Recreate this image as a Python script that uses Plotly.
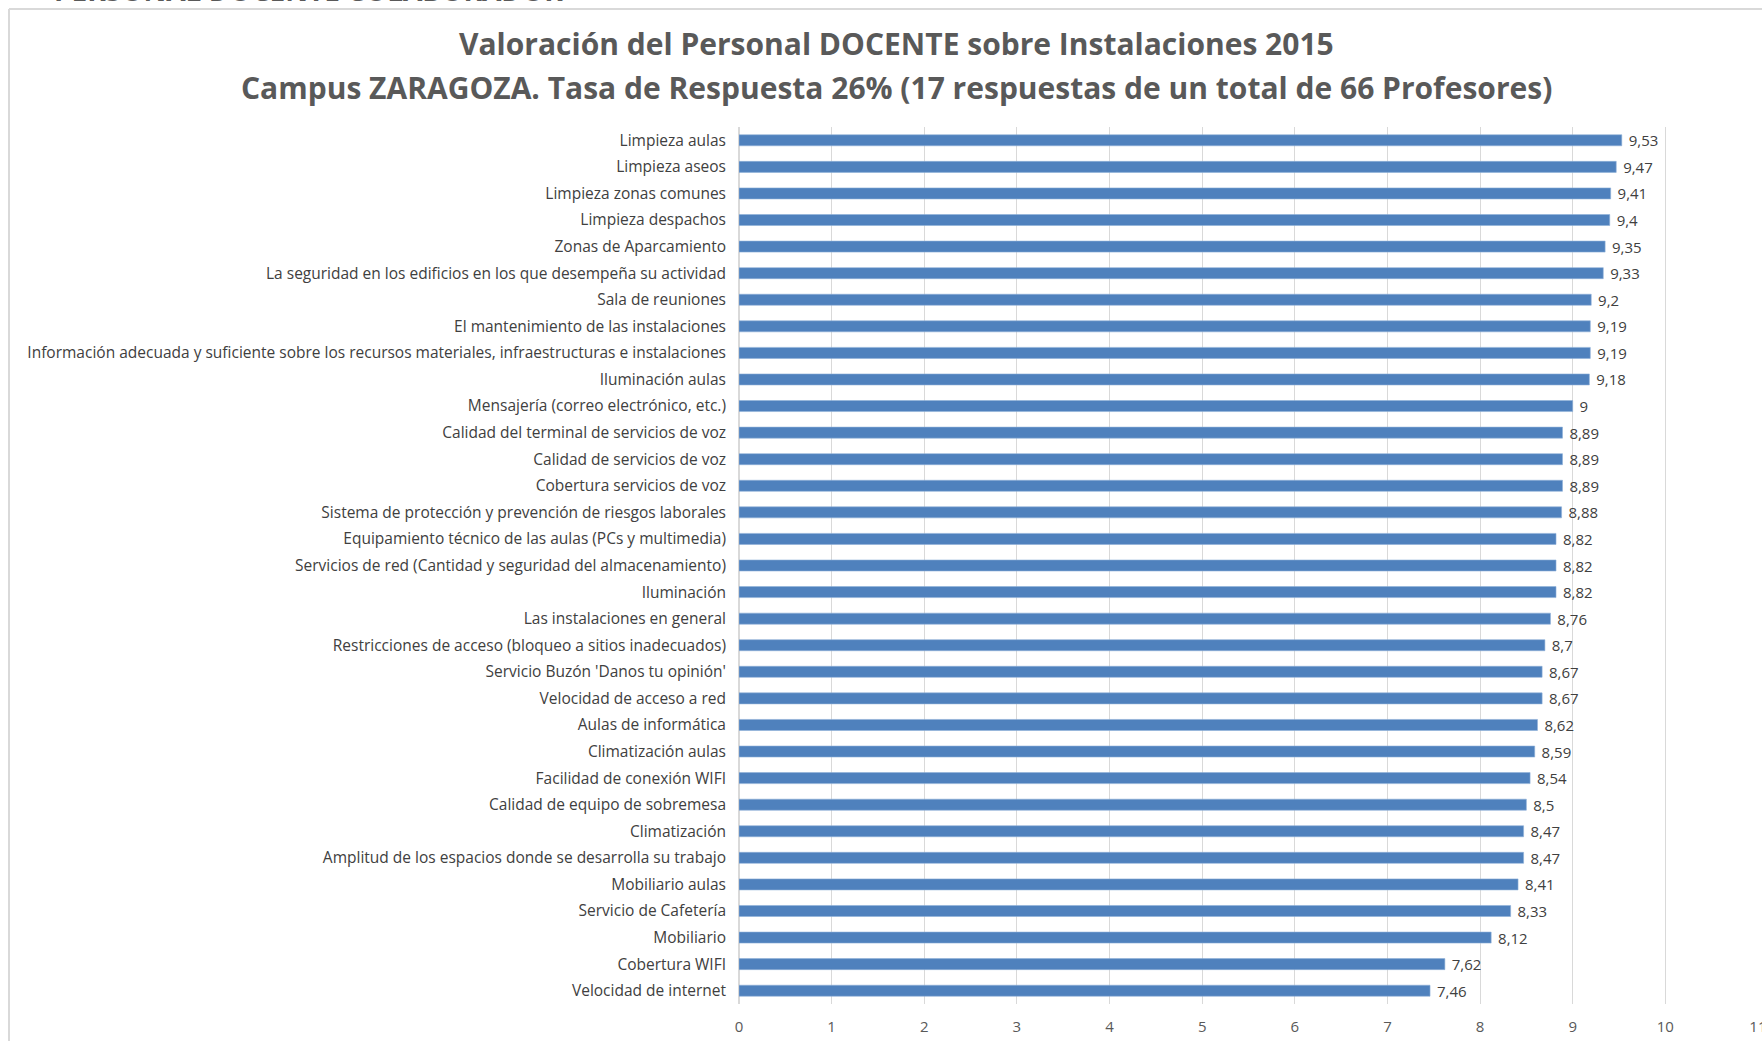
import plotly.graph_objects as go

# Datos (de arriba a abajo)
categorias = [
    "Limpieza aulas",
    "Limpieza aseos",
    "Limpieza zonas comunes",
    "Limpieza despachos",
    "Zonas de Aparcamiento",
    "La seguridad en los edificios en los que desempeña su actividad",
    "Sala de reuniones",
    "El mantenimiento de las instalaciones",
    "Información adecuada y suficiente sobre los recursos materiales, infraestructuras e instalaciones",
    "Iluminación aulas",
    "Mensajería (correo electrónico, etc.)",
    "Calidad del terminal de servicios de voz",
    "Calidad de servicios de voz",
    "Cobertura servicios de voz",
    "Sistema de protección y prevención de riesgos laborales",
    "Equipamiento técnico de las aulas (PCs y multimedia)",
    "Servicios de red (Cantidad y seguridad del almacenamiento)",
    "Iluminación",
    "Las instalaciones en general",
    "Restricciones de acceso (bloqueo a sitios inadecuados)",
    "Servicio Buzón 'Danos tu opinión'",
    "Velocidad de acceso a red",
    "Aulas de informática",
    "Climatización aulas",
    "Facilidad de conexión WIFI",
    "Calidad de equipo de sobremesa",
    "Climatización",
    "Amplitud de los espacios donde se desarrolla su trabajo",
    "Mobiliario aulas",
    "Servicio de Cafetería",
    "Mobiliario",
    "Cobertura WIFI",
    "Velocidad de internet",
]
valores = [
    9.53, 9.47, 9.41, 9.4, 9.35, 9.33, 9.2, 9.19, 9.19, 9.18, 9,
    8.89, 8.89, 8.89, 8.88, 8.82, 8.82, 8.82, 8.76, 8.7, 8.67, 8.67,
    8.62, 8.59, 8.54, 8.5, 8.47, 8.47, 8.41, 8.33, 8.12, 7.62, 7.46,
]
ticks_x = list(range(0, 12))

titulo_1 = "Valoración del Personal DOCENTE sobre Instalaciones 2015"
titulo_2 = "Campus ZARAGOZA. Tasa de Respuesta 26% (17 respuestas de un total de 66 Profesores)"
cabecera = "PERSONAL DOCENTE COLABORADOR"

W, H = 1762, 1041
ML, MR, MT, MB = 739, 4, 127, 37
pw = W - ML - MR
ph = H - MT - MB


def px_x(px):
    return (px - ML) / pw


def px_y(py):
    return (H - MB - py) / ph


fig = go.Figure(
    go.Bar(
        x=valores,
        y=categorias,
        orientation="h",
        marker=dict(color="#4f81bd", line=dict(color="#8fb0d9", width=0.6)),
        texttemplate="\u00a0%{x:.2~f}",
        textposition="outside",
        constraintext="none",
        textfont=dict(family="Open Sans", size=15, color="#404040"),
        cliponaxis=False,
        hoverinfo="skip",
    )
)

fig.update_layout(
    width=W,
    height=H,
    margin=dict(l=ML, r=MR, t=MT, b=MB, autoexpand=False),
    paper_bgcolor="white",
    plot_bgcolor="white",
    separators=",.",
    showlegend=False,
    bargap=0.585,
    font=dict(family="Open Sans", color="#404040"),
)

fig.update_xaxes(
    range=[0, 11.0005],
    tickvals=ticks_x,
    automargin=False,
    showgrid=True,
    gridcolor="#d9d9d9",
    gridwidth=1,
    zeroline=True,
    zerolinecolor="#d9d9d9",
    showline=False,
    ticks="",
    ticklabelstandoff=12,
    ticklabeloverflow="allow",
    tickfont=dict(family="Open Sans", size=15, color="#595959"),
)
fig.update_yaxes(
    autorange="reversed",
    automargin=False,
    showgrid=False,
    ticks="",
    ticklabelstandoff=12,
    tickfont=dict(family="Open Sans", size=15.5, color="#404040"),
)

# título en dos líneas
tfont = dict(family="Open Sans", size=30, color="#595959", weight="bold")
fig.add_annotation(text=titulo_1, xref="paper", yref="paper",
                   x=px_x(896), y=px_y(43), xanchor="center", yanchor="middle",
                   showarrow=False, font=tfont)
fig.add_annotation(text=titulo_2, xref="paper", yref="paper",
                   x=px_x(896), y=px_y(88), xanchor="center", yanchor="middle",
                   showarrow=False, font=tfont)

# borde del área del gráfico (recortado)
fig.add_shape(type="line", xref="paper", yref="paper",
              x0=px_x(9), x1=px_x(9), y0=px_y(9), y1=px_y(1100),
              line=dict(color="#d9d9d9", width=2))
fig.add_shape(type="line", xref="paper", yref="paper",
              x0=px_x(9), x1=px_x(1800), y0=px_y(9), y1=px_y(9),
              line=dict(color="#d9d9d9", width=2))

# texto de cabecera cortado en la parte superior
fig.add_annotation(
    text=cabecera, xref="paper", yref="paper",
    x=px_x(52), y=px_y(11), xanchor="left", yanchor="bottom",
    showarrow=False,
    font=dict(family="Open Sans", size=28, color="#595959", weight="bold"),
)

fig.write_html(
    "out.html",
    config={"displayModeBar": False},
    post_script="document.body.style.margin='0';",
)
